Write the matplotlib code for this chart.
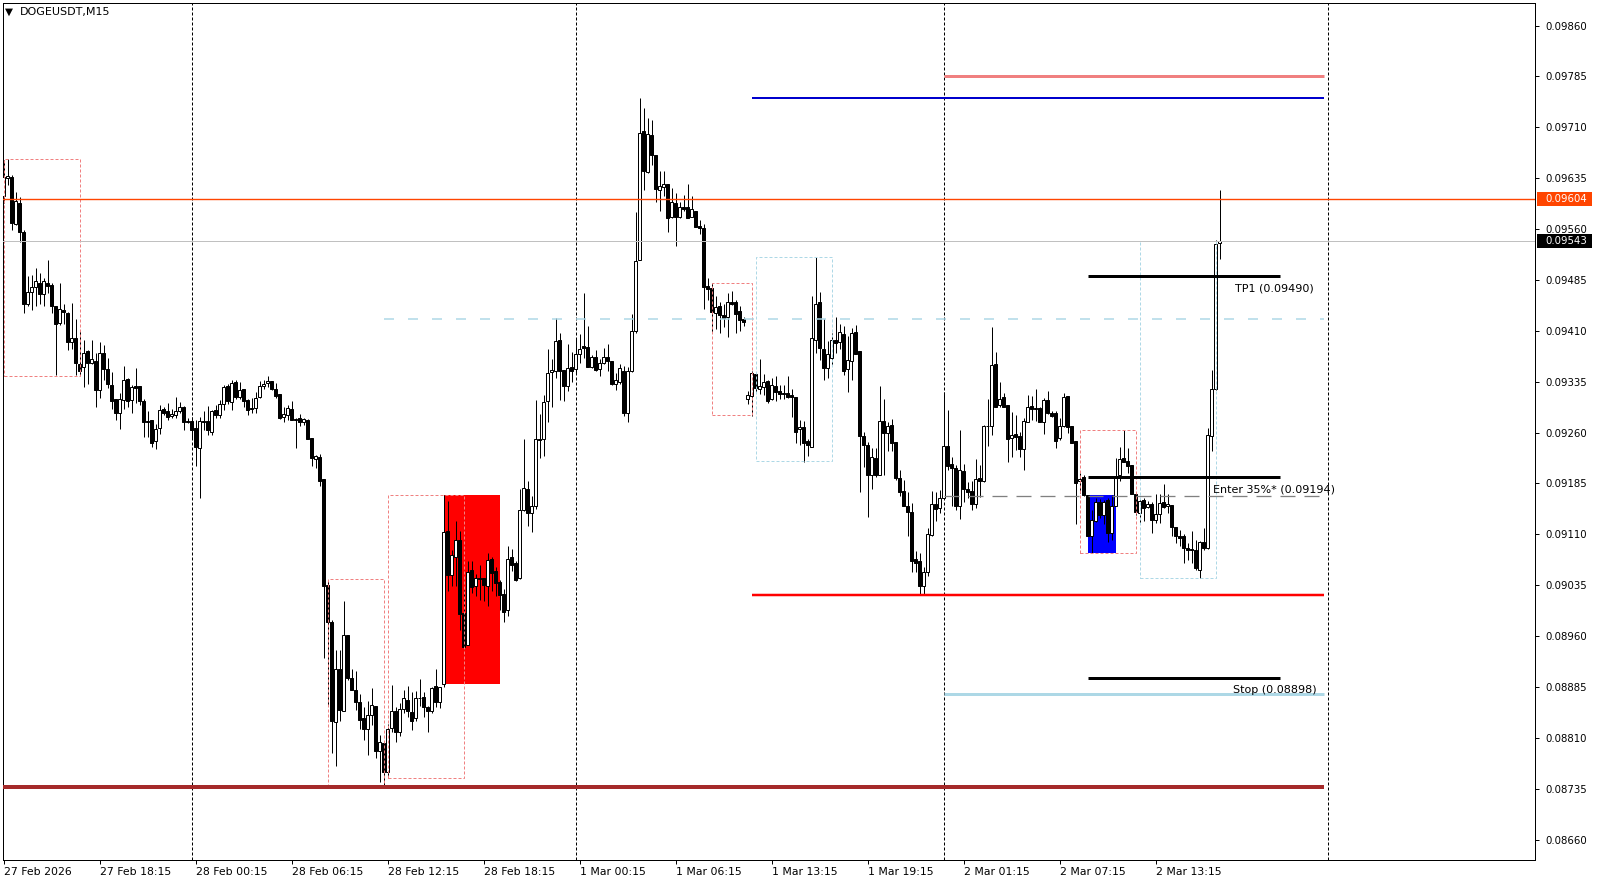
import numpy as np
import matplotlib
matplotlib.use("Agg")
import matplotlib.pyplot as plt
import matplotlib.transforms as mtransforms
from matplotlib.patches import Rectangle

plt.rcParams['font.family'] = ['DejaVu Sans']
plt.rcParams['lines.scale_dashes'] = False

PX = 0.72  # one screen pixel in points at dpi 100

symbol = 'DOGEUSDT,M15'

# M15 candles, prices in points (1 point = 0.00001)
open_pts = [
    9608, 9635, 9636, 9567, 9599, 9555, 9449, 9467, 9475, 9481,
    9464, 9480, 9478, 9447, 9422, 9440, 9436, 9393, 9399, 9361,
    9356, 9380, 9363, 9365, 9323, 9377, 9354, 9330, 9309, 9289,
    9308, 9339, 9308, 9328, 9328, 9306, 9277, 9279, 9247, 9266,
    9294, 9291, 9284, 9286, 9292, 9297, 9277, 9277, 9266, 9237,
    9277, 9277, 9261, 9293, 9286, 9302, 9329, 9305, 9334, 9313,
    9324, 9308, 9296, 9296, 9312, 9329, 9333, 9336, 9324, 9317,
    9283, 9286, 9295, 9280, 9281, 9276, 9279, 9252, 9221, 9224,
    9192, 9035, 8980, 8833, 8912, 8850, 8961, 8898, 8880, 8862,
    8839, 8823, 8843, 8857, 8791, 8802, 8760, 8824, 8850, 8818,
    8852, 8866, 8848, 8839, 8868, 8870, 8856, 8850, 8887, 8863,
    8889, 9115, 9050, 9077, 9102, 8994, 8946, 9057, 9033, 9046,
    9045, 9033, 9073, 9056, 9040, 9022, 8999, 9076, 9068, 9045,
    9146, 9176, 9142, 9151, 9251, 9251, 9306, 9349, 9350, 9396,
    9352, 9329, 9356, 9353, 9376, 9388, 9386, 9356, 9371, 9353,
    9363, 9371, 9366, 9331, 9335, 9351, 9289, 9351, 9409, 9515,
    9704, 9644, 9698, 9669, 9617, 9622, 9626, 9577, 9598, 9577,
    9593, 9592, 9578, 9587, 9564, 9561, 9476, 9473, 9436, 9447,
    9433, 9430, 9453, 9453, 9439, 9427, 9310, 9314, 9346, 9324,
    9327, 9336, 9309, 9329, 9321, 9318, 9318, 9315, 9312, 9265,
    9268, 9248, 9239, 9397, 9452, 9383, 9355, 9370, 9397, 9394,
    9405, 9353, 9365, 9408, 9380, 9255, 9241, 9198, 9223, 9198,
    9277, 9259, 9271, 9246, 9193, 9174, 9152, 9143, 9074, 9071,
    9034, 9055, 9109, 9155, 9148, 9164, 9240, 9214, 9207, 9151,
    9203, 9177, 9174, 9154, 9193, 9188, 9269, 9270, 9361, 9300,
    9312, 9301, 9252, 9258, 9255, 9236, 9276, 9299, 9296, 9296,
    9275, 9308, 9289, 9289, 9252, 9269, 9314, 9269, 9247, 9188,
    9194, 9168, 9108, 9130, 9158, 9139, 9161, 9112, 9152, 9197,
    9223, 9218, 9212, 9170, 9142, 9161, 9150, 9155, 9131, 9140,
    9157, 9152, 9153, 9120, 9107, 9108, 9090, 9088, 9087, 9058,
    9098, 9089, 9255, 9324, 9539,
]
high_pts = [
    9661, 9663, 9640, 9615, 9607, 9559, 9490, 9492, 9503, 9495,
    9488, 9514, 9480, 9447, 9480, 9450, 9438, 9451, 9428, 9411,
    9396, 9382, 9397, 9377, 9394, 9389, 9370, 9349, 9309, 9318,
    9358, 9341, 9330, 9355, 9329, 9310, 9291, 9279, 9273, 9300,
    9298, 9304, 9294, 9312, 9305, 9299, 9282, 9283, 9279, 9283,
    9291, 9299, 9293, 9300, 9308, 9330, 9331, 9337, 9337, 9334,
    9324, 9310, 9311, 9319, 9336, 9338, 9343, 9336, 9333, 9317,
    9297, 9300, 9306, 9282, 9288, 9282, 9280, 9252, 9227, 9229,
    9192, 9043, 8984, 8940, 8940, 9012, 8961, 8911, 8908, 8874,
    8856, 8864, 8884, 8857, 8814, 8802, 8830, 8888, 8856, 8861,
    8881, 8886, 8878, 8879, 8897, 8878, 8857, 8885, 8911, 8885,
    9168, 9159, 9087, 9130, 9115, 9028, 9071, 9071, 9052, 9065,
    9045, 9083, 9077, 9061, 9043, 9030, 9093, 9088, 9071, 9177,
    9250, 9188, 9166, 9308, 9287, 9315, 9383, 9368, 9429, 9406,
    9352, 9390, 9379, 9399, 9405, 9465, 9417, 9374, 9382, 9369,
    9384, 9391, 9366, 9347, 9361, 9358, 9356, 9434, 9585, 9753,
    9739, 9723, 9721, 9669, 9645, 9646, 9626, 9620, 9613, 9600,
    9610, 9626, 9608, 9587, 9573, 9567, 9488, 9481, 9461, 9453,
    9449, 9466, 9469, 9456, 9447, 9431, 9321, 9350, 9346, 9368,
    9346, 9338, 9341, 9343, 9330, 9330, 9343, 9324, 9312, 9279,
    9277, 9251, 9461, 9518, 9467, 9427, 9395, 9406, 9431, 9420,
    9417, 9402, 9414, 9419, 9380, 9261, 9246, 9237, 9237, 9328,
    9310, 9276, 9280, 9246, 9205, 9190, 9173, 9156, 9085, 9082,
    9062, 9119, 9174, 9173, 9175, 9319, 9293, 9224, 9212, 9264,
    9213, 9187, 9189, 9221, 9212, 9271, 9310, 9416, 9378, 9334,
    9318, 9301, 9290, 9286, 9261, 9282, 9315, 9314, 9324, 9298,
    9311, 9321, 9291, 9291, 9281, 9318, 9314, 9269, 9248, 9201,
    9197, 9168, 9146, 9163, 9162, 9161, 9163, 9168, 9222, 9239,
    9264, 9237, 9212, 9170, 9164, 9163, 9159, 9158, 9170, 9170,
    9184, 9170, 9153, 9121, 9116, 9111, 9097, 9115, 9102, 9100,
    9119, 9266, 9352, 9544, 9617,
]
low_pts = [
    9598, 9625, 9558, 9566, 9541, 9436, 9446, 9441, 9447, 9450,
    9446, 9466, 9436, 9345, 9418, 9420, 9381, 9383, 9345, 9345,
    9327, 9332, 9361, 9298, 9311, 9338, 9325, 9294, 9279, 9265,
    9294, 9298, 9289, 9303, 9301, 9254, 9254, 9239, 9236, 9258,
    9286, 9278, 9282, 9281, 9289, 9263, 9274, 9252, 9210, 9163,
    9264, 9256, 9256, 9282, 9281, 9293, 9302, 9293, 9310, 9310,
    9297, 9286, 9289, 9289, 9311, 9324, 9327, 9323, 9311, 9280,
    9276, 9279, 9278, 9237, 9270, 9271, 9250, 9211, 9207, 9181,
    8927, 8857, 8788, 8768, 8834, 8849, 8895, 8880, 8851, 8823,
    8806, 8785, 8829, 8780, 8745, 8737, 8754, 8818, 8803, 8813,
    8846, 8840, 8822, 8835, 8857, 8841, 8818, 8846, 8856, 8854,
    8885, 9027, 9033, 9033, 8969, 8941, 8946, 9023, 9019, 9013,
    9011, 9004, 9027, 9019, 8998, 8980, 8990, 9056, 9041, 9044,
    9145, 9122, 9114, 9147, 9223, 9225, 9275, 9298, 9341, 9308,
    9306, 9321, 9335, 9347, 9362, 9370, 9357, 9355, 9350, 9344,
    9361, 9351, 9330, 9322, 9332, 9284, 9276, 9349, 9407, 9514,
    9618, 9642, 9654, 9600, 9587, 9608, 9555, 9576, 9535, 9576,
    9587, 9576, 9577, 9563, 9553, 9442, 9456, 9407, 9413, 9407,
    9415, 9401, 9448, 9407, 9409, 9417, 9302, 9285, 9320, 9317,
    9316, 9304, 9308, 9307, 9310, 9310, 9311, 9283, 9245, 9241,
    9217, 9226, 9238, 9377, 9367, 9337, 9341, 9360, 9377, 9383,
    9345, 9320, 9338, 9376, 9173, 9209, 9136, 9177, 9195, 9197,
    9197, 9232, 9232, 9190, 9167, 9151, 9107, 9055, 9055, 9020,
    9020, 9048, 9108, 9130, 9141, 9163, 9205, 9152, 9146, 9133,
    9158, 9163, 9146, 9149, 9165, 9187, 9240, 9256, 9298, 9298,
    9297, 9217, 9224, 9234, 9224, 9205, 9276, 9278, 9277, 9275,
    9258, 9288, 9283, 9237, 9249, 9268, 9260, 9244, 9125, 9171,
    9166, 9108, 9083, 9128, 9134, 9125, 9098, 9101, 9152, 9188,
    9216, 9200, 9170, 9139, 9125, 9130, 9148, 9112, 9126, 9126,
    9148, 9141, 9108, 9097, 9093, 9068, 9072, 9067, 9057, 9045,
    9087, 9088, 9232, 9323, 9516,
]
close_pts = [
    9636, 9638, 9569, 9601, 9556, 9449, 9467, 9475, 9483, 9464,
    9483, 9476, 9447, 9420, 9442, 9437, 9394, 9400, 9362, 9351,
    9377, 9362, 9368, 9323, 9377, 9354, 9331, 9307, 9289, 9310,
    9337, 9307, 9327, 9325, 9307, 9276, 9276, 9245, 9265, 9293,
    9289, 9283, 9288, 9292, 9297, 9275, 9275, 9264, 9239, 9277,
    9276, 9263, 9292, 9286, 9302, 9327, 9306, 9333, 9312, 9323,
    9306, 9293, 9295, 9311, 9329, 9332, 9336, 9324, 9314, 9282,
    9288, 9296, 9278, 9279, 9275, 9280, 9251, 9222, 9225, 9189,
    9033, 8980, 8834, 8911, 8851, 8961, 8898, 8880, 8863, 8836,
    8823, 8843, 8858, 8790, 8804, 8760, 8823, 8850, 8818, 8852,
    8868, 8849, 8835, 8868, 8869, 8855, 8849, 8884, 8863, 8885,
    9113, 9050, 9079, 9102, 8992, 8944, 9055, 9032, 9045, 9044,
    9035, 9072, 9053, 9038, 9021, 8996, 9074, 9065, 9043, 9146,
    9178, 9142, 9151, 9251, 9249, 9305, 9347, 9352, 9395, 9350,
    9329, 9355, 9351, 9375, 9383, 9384, 9357, 9371, 9352, 9362,
    9371, 9365, 9332, 9338, 9355, 9289, 9351, 9410, 9513, 9701,
    9645, 9700, 9669, 9619, 9624, 9626, 9576, 9600, 9578, 9592,
    9590, 9576, 9589, 9563, 9561, 9474, 9471, 9437, 9445, 9433,
    9429, 9452, 9450, 9435, 9426, 9423, 9315, 9347, 9325, 9329,
    9334, 9307, 9330, 9319, 9317, 9317, 9313, 9313, 9261, 9268,
    9245, 9241, 9399, 9450, 9385, 9355, 9375, 9396, 9392, 9408,
    9351, 9367, 9407, 9376, 9255, 9241, 9198, 9224, 9197, 9277,
    9260, 9270, 9244, 9193, 9173, 9152, 9143, 9071, 9067, 9034,
    9054, 9111, 9154, 9147, 9163, 9240, 9211, 9207, 9152, 9205,
    9176, 9173, 9154, 9191, 9189, 9269, 9270, 9360, 9298, 9310,
    9297, 9251, 9256, 9253, 9236, 9277, 9297, 9295, 9294, 9276,
    9308, 9289, 9284, 9248, 9270, 9312, 9268, 9244, 9186, 9192,
    9168, 9108, 9131, 9158, 9139, 9158, 9112, 9152, 9196, 9221,
    9217, 9211, 9170, 9143, 9159, 9148, 9155, 9131, 9140, 9156,
    9150, 9155, 9120, 9108, 9105, 9090, 9087, 9087, 9060, 9098,
    9089, 9257, 9324, 9538, 9543,
]

time_labels = ['27 Feb 2026', '27 Feb 18:15', '28 Feb 00:15', '28 Feb 06:15',
               '28 Feb 12:15', '28 Feb 18:15', '1 Mar 00:15', '1 Mar 06:15',
               '1 Mar 13:15', '1 Mar 19:15', '2 Mar 01:15', '2 Mar 07:15',
               '2 Mar 13:15']
label_bars = [0, 24, 48, 72, 96, 120, 144, 168, 192, 216, 240, 264, 288]
day_start_bars = [47, 143, 235, 331]

price_ticks_pts = list(range(8660, 9861, 75))

last_price = 0.09543
alert_price = 0.09604

# horizontal levels: price, first bar, last bar, colour, width px, dash px
levels = [
    (0.09786, 235, 330, '#F08080', 3.0, None),
    (0.09753, 187, 330, '#0000CD', 2.0, None),
    (0.09428, 95, 330, '#ADD8E6', 1.5, (10, 14)),
    (0.09021, 187, 330, '#FF0000', 2.5, None),
    (0.08738, -1, 330, '#A52A2A', 4.0, None),
    (0.09166, 235, 330, '#808080', 1.3, (15, 9)),
    (0.08875, 235, 330, '#ADD8E6', 3.0, None),
]

# trade plan lines: price, text, text bar
trade_levels = [
    (0.09490, 'TP1 (0.09490)', 307.9),
    (0.09194, 'Enter 35%* (0.09194)', 302.4),
    (0.08898, 'Stop (0.08898)', 307.4),
]
trade_first, trade_last = 271, 319

# zones: first bar, last bar, top, bottom, colour, filled
zones = [
    (0, 19, 0.09663, 0.09343, '#F08080', False),
    (81, 95, 0.09044, 0.08737, '#F08080', False),
    (96, 115, 0.09168, 0.08750, '#F08080', False),
    (110, 124, 0.09168, 0.08889, '#FF0000', True),
    (177, 187, 0.09481, 0.09286, '#F08080', False),
    (188, 207, 0.09518, 0.09218, '#ADD8E6', False),
    (269, 283, 0.09264, 0.09082, '#F08080', False),
    (271, 278, 0.09168, 0.09082, '#0000FF', True),
    (284, 303, 0.09543, 0.09045, '#ADD8E6', False),
]

o = np.array(open_pts) / 1e5
h = np.array(high_pts) / 1e5
l = np.array(low_pts) / 1e5
c = np.array(close_pts) / 1e5
idx = np.arange(len(c))

fig = plt.figure(figsize=(15.99, 8.84), dpi=100)
ax = fig.add_axes([3 / 1599, 24 / 884, 1532 / 1599, 857 / 884])
ax.set_xlim(-0.125, 382.875)
ax.set_ylim(0.0862978, 0.0989317)

for x0, x1, top, bot, col, filled in zones:
    if filled:
        ax.add_patch(Rectangle((x0, bot), x1 - x0, top - bot, facecolor=col,
                               edgecolor='none', zorder=1))
    else:
        ax.add_patch(Rectangle((x0, bot), x1 - x0, top - bot, fill=False,
                               edgecolor=col, linewidth=PX,
                               linestyle=(0, (3 * PX, 2 * PX)), zorder=5))

for b in day_start_bars:
    ax.axvline(b, color='black', linewidth=PX, dashes=(3 * PX, 2 * PX), zorder=2)

# candles
ax.vlines(idx, l, h, color='black', linewidth=PX, zorder=3)
up = c >= o
ax.bar(idx[up], (c - o)[up], bottom=o[up], width=0.6, color='white',
       edgecolor='black', linewidth=PX, zorder=4)
ax.bar(idx[~up], (o - c)[~up], bottom=c[~up], width=0.6, color='black',
       edgecolor='black', linewidth=PX, zorder=4)

ax.axhline(alert_price, color='#FF4500', linewidth=1.0, zorder=6)
ax.axhline(last_price, color='#C0C0C0', linewidth=PX, zorder=6)

for p, x0, x1, col, w, dash in levels:
    if dash is None:
        ax.plot([x0, x1], [p, p], color=col, linewidth=w * PX,
                solid_capstyle='butt', zorder=6)
    else:
        ax.plot([x0, x1], [p, p], color=col, linewidth=w * PX,
                dashes=(dash[0] * PX, dash[1] * PX), zorder=6)

for p, txt, tx in trade_levels:
    ax.plot([trade_first, trade_last], [p, p], color='black', linewidth=3 * PX,
            solid_capstyle='butt', zorder=7)
    ax.text(tx, p - 0.00018, txt, fontsize=8, color='black', ha='left',
            va='center', zorder=8)

# axes look
for sp in ax.spines.values():
    sp.set_linewidth(PX)
    sp.set_color('black')
ax.yaxis.tick_right()
ax.set_yticks(np.array(price_ticks_pts) / 1e5)
ax.set_yticklabels([f'{p / 1e5:.5f}' for p in price_ticks_pts])
ax.tick_params(axis='y', direction='out', length=4 * PX, width=PX,
               pad=6 * PX, labelsize=7.3, colors='black')
ax.set_xticks(label_bars)
ax.set_xticklabels(time_labels, ha='left')
ax.tick_params(axis='x', direction='out', length=4 * PX, width=PX,
               pad=3 * PX, labelsize=7.8, colors='black')

# price tags on the right scale
blend = mtransforms.blended_transform_factory(ax.transAxes, ax.transData)
tag_h = 14 * (ax.get_ylim()[1] - ax.get_ylim()[0]) / 857
for p, col in [(alert_price, '#FF4500'), (last_price, 'black')]:
    ax.add_patch(Rectangle((1.0013, p - tag_h / 2), 0.0359, tag_h, transform=blend,
                           facecolor=col, edgecolor='none', clip_on=False, zorder=9))
    ax.text(1.0065, p, f'{p:.5f}', transform=blend, color='white', fontsize=7.3,
            ha='left', va='center', clip_on=False, zorder=10)

fig.text(5 / 1599, 1 - 12 / 884, '\u25bc', fontsize=7.5, va='center', ha='left')
fig.text(20 / 1599, 1 - 12 / 884, symbol, fontsize=8, va='center', ha='left')

fig.savefig('out.png', dpi=100)
